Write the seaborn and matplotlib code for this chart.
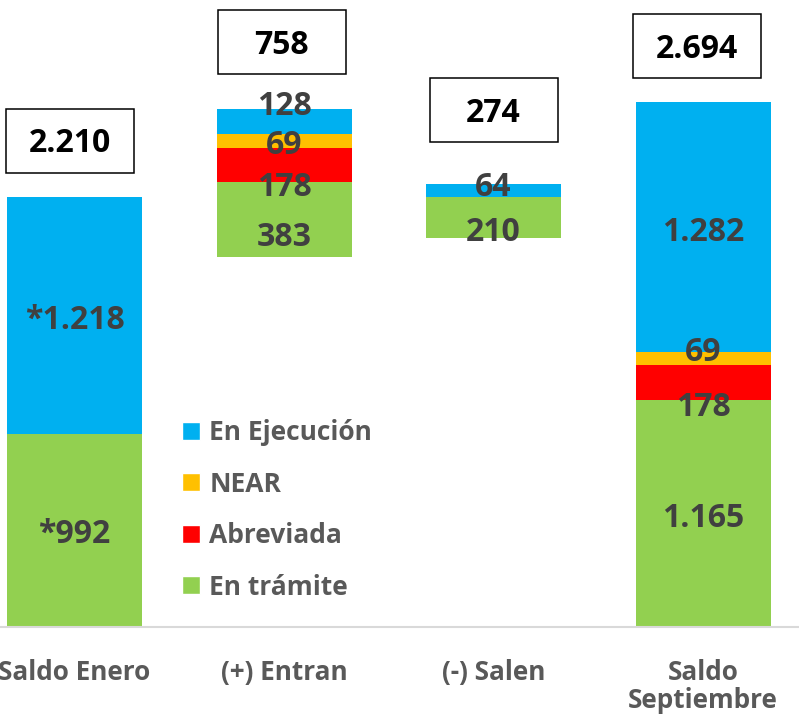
import matplotlib
matplotlib.use("Agg")
import matplotlib.pyplot as plt
import matplotlib.transforms as mtransforms
from matplotlib.patches import Patch, Rectangle
from matplotlib.font_manager import FontProperties
import seaborn as sns

# data
categories = ["Saldo Enero", "(+) Entran", "(-) Salen", "Saldo\nSeptiembre"]
base = [0, 1900, 2000, 0]          # invisible offset of the floating bars
en_tramite = [992, 383, 210, 1165]
abreviada = [0, 178, 0, 178]
near = [0, 69, 0, 69]
en_ejecucion = [1218, 128, 64, 1282]
totals = [2210, 758, 274, 2694]
label_prefix = ["*", "", "", ""]

series_names = ["En trámite", "Abreviada", "NEAR", "En Ejecución"]
series_values = [en_tramite, abreviada, near, en_ejecucion]
colors = ["#92D050", "#FF0000", "#FFC000", "#00B0F0"]

# hand nudges of the value labels in pixels (series x category), like the original
nudges = [[-1.5, -15, -12, -2],
          [0, -19, 0, -22],
          [0, -1, 0, 9],
          [-2, 18, 5.5, -2]]
box_lift = [56, 67, 74, 56]
box_shift = [-4.5, -2.5, 0, -6]
text_drop = -3   # glyph centre vs text box centre

sns.set_style("white")
plt.rcParams['font.family'] = ['Open Sans', 'DejaVu Sans']

fig = plt.figure(figsize=(7.99, 7.22), dpi=100)
ax = fig.add_axes([0, 95 / 722, 1, 627 / 722])

bottom = list(base)
for name, vals, col in zip(series_names, series_values, colors):
    sns.barplot(x=categories, y=vals, bottom=bottom, color=col, saturation=1,
                width=0.644, errorbar=None, linewidth=0, ax=ax)
    bottom = [b + v for b, v in zip(bottom, vals)]

ax.set_xlim(-0.355, 3.457)
ax.set_ylim(0, 3220)

# value labels inside the bars
bottom = list(base)
for s, vals in enumerate(series_values):
    for i, v in enumerate(vals):
        if v > 0:
            txt = label_prefix[i] + f"{v:,}".replace(",", ".")
            ax.annotate(txt, xy=(i, bottom[i] + v / 2), xytext=(0, nudges[s][i] + text_drop),
                        textcoords="offset pixels", ha="center", va="center",
                        fontsize=23, fontweight="bold", color="#404040")
    bottom = [b + v for b, v in zip(bottom, vals)]

# boxed totals above the bars
for i, t in enumerate(totals):
    top = base[i] + t
    trans = fig.dpi_scale_trans + mtransforms.ScaledTranslation(i, top, ax.transData)
    ax.add_patch(Rectangle(((box_shift[i] - 64) / 100, (box_lift[i] - 32) / 100), 1.28, 0.64,
                           transform=trans, facecolor="white", edgecolor="black",
                           linewidth=1.1, clip_on=False))
    ax.annotate(f"{t:,}".replace(",", "."), xy=(i, top),
                xytext=(box_shift[i], box_lift[i] + text_drop),
                textcoords="offset pixels", ha="center", va="center",
                fontsize=23, fontweight="bold", color="black")

handles = [Patch(facecolor=c, label=n) for n, c in zip(series_names, colors)][::-1]
ax.legend(handles=handles, loc="upper left", bbox_to_anchor=(182 / 799, 1 - 419 / 722),
          bbox_transform=fig.transFigure, frameon=False,
          prop=FontProperties(family="Open Sans", weight="bold", size=19),
          labelcolor="#595959", handlelength=0.68, handleheight=0.68,
          handletextpad=0.35, labelspacing=0.93, borderpad=0, borderaxespad=0)

ax.set_xlabel("")
ax.set_ylabel("")
ax.set_yticks([])
ax.tick_params(axis="x", length=0, pad=23, labelcolor="#595959")
for lbl in ax.get_xticklabels():
    lbl.set_fontproperties(FontProperties(family="Open Sans", weight="bold", size=18.8))
    lbl.set_linespacing(1.05)
sns.despine(ax=ax, left=True)
ax.spines["bottom"].set_color("#D9D9D9")
ax.spines["bottom"].set_linewidth(1.5)

fig.savefig("out.png", dpi=100)
